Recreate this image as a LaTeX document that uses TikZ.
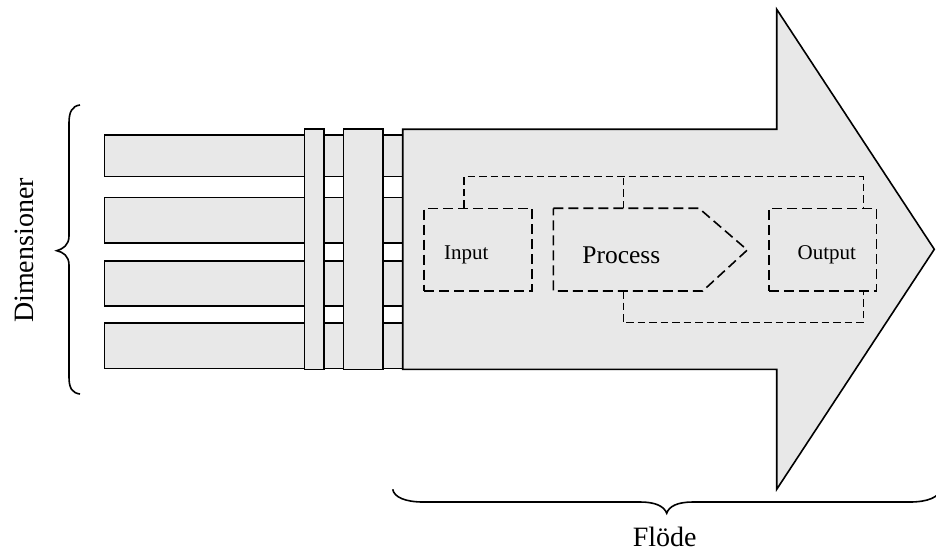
\documentclass[tikz,border=0pt]{standalone}
\usepackage{fontspec}
\setmainfont{Liberation Serif}
\definecolor{fillgray}{RGB}{232,232,232}
\begin{document}
\begin{tikzpicture}[x=1pt,y=-1pt,
  shapebox/.style={draw=black,line width=1.6pt,fill=fillgray,line join=miter},
  dashbox/.style={draw=black,line width=1.6pt,dash pattern=on 10pt off 5pt,inner sep=0pt},
  dashlink/.style={draw=black,line width=1.5pt,dash pattern=on 7.5pt off 4pt},
  bracepath/.style={draw=black,line width=1.6pt},
  smalltext/.style={inner sep=0pt,anchor=base,font=\fontsize{21}{24}\selectfont},
  bigtext/.style={inner sep=0pt,anchor=base,font=\fontsize{28}{32}\selectfont}
]
\clip (0,0) rectangle (936,553);
% horizontal bars (dimensions)
\foreach \yt/\yb [count=\i] in {135/176.7, 197.7/243.3, 260.7/306, 322.7/368.3}{
  \draw[shapebox] (104.3,\yt) rectangle (403,\yb);
}
% vertical strips
\draw[shapebox] (304.3,129.3) rectangle (324,369.3);
\draw[shapebox] (343.3,129.3) rectangle (382.7,369.3);
% big arrow
\draw[shapebox] (402.7,129.3) -- (776.7,129.3) -- (776.7,9.3) -- (934.3,249.3)
  -- (776.7,489.3) -- (776.7,369.3) -- (402.7,369.3) -- cycle;
% dashed boxes
\node[dashbox, minimum width=108pt, minimum height=82.7pt] (inbox) at (478,249.7) {};
\node[dashbox, minimum width=107.7pt, minimum height=82.7pt] (outbox) at (822.8,249.7) {};
\draw[dashbox] (553.3,208.3) coordinate (pnw) -- (699,208.3) -- (747.3,250) coordinate (ptip)
  -- (702.7,291) -- (553.3,291) coordinate (psw) -- cycle;
\coordinate (pn) at (623.3,208.3);
\coordinate (ps) at (623.3,291);
% texts
\node[smalltext] (intext) at (466.3,259.3) {Input};
\node[smalltext] (outtext) at (826.8,259.3) {Output};
\node[inner sep=0pt,anchor=base,font=\fontsize{25.5}{28}\selectfont] (proctext) at (621.3,263.3) {Process};
% dashed connectors
\coordinate (topl) at (464,176.7);
\coordinate (topm) at (623.3,176.7);
\coordinate (topr) at (863.3,176.7);
\coordinate (botm) at (623.3,322.7);
\coordinate (botr) at (863.3,322.7);
\draw[dashlink] (inbox.north -| topl) -- (topl) -- (topr) -- (outbox.north -| topr);
\draw[dashlink] (pn) -- (topm);
\draw[dashlink] (ps) -- (botm) -- (botr) -- (outbox.south -| botr);
% left brace
\draw[bracepath] (80,105) .. controls (72,106) and (69,112) .. (69,123) -- (69,236)
  .. controls (69,245) and (63,249) .. (56.7,250.7)
  .. controls (63,252) and (69,256) .. (69,265) -- (69,377)
  .. controls (69,388) and (72,393) .. (80,394);
% bottom brace
\draw[bracepath] (392.7,489.3) .. controls (394,497) and (405,502) .. (423,502) -- (640,502)
  .. controls (655,502) and (664,506) .. (666.7,513.3)
  .. controls (669,506) and (678,502) .. (693,502) -- (910,502)
  .. controls (928,502) and (939,497) .. (940.7,489.3);
% labels
\node[bigtext, rotate=90] (dimtext) at (33.3,250.5) {Dimensioner};
\node[bigtext] (flodetext) at (664.7,546) {Flöde};
\end{tikzpicture}
\end{document}
